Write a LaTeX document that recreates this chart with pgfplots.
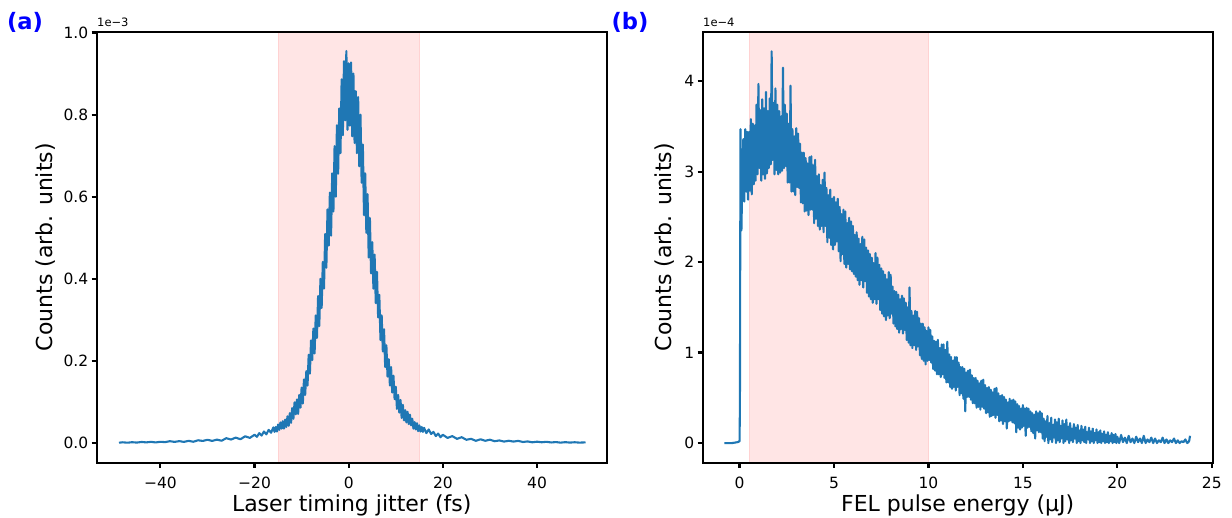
\documentclass[border=0pt]{standalone}
\usepackage{fontspec}
\setmainfont{DejaVu Sans}
\usepackage{pgfplots}
\pgfplotsset{compat=1.18}
\definecolor{mplblue}{HTML}{1F77B4}
\definecolor{bandpink}{RGB}{255,229,229}
\definecolor{bandedge}{RGB}{255,210,210}
\pgfplotsset{
 myaxis/.style={
  scale only axis, width=510pt, height=431pt, axis on top, clip=false,
  axis line style={line width=2.3pt, black},
  tick align=outside, xtick pos=bottom, ytick pos=left,
  major tick length=5pt, tick style={line width=2.2pt, black},
  tick label style={font=\fontsize{15.5}{18}\selectfont},
  xticklabel style={yshift=-6pt},
  every axis x label/.style={at={(axis description cs:0.5,-0.1137)}, anchor=base, font=\fontsize{22}{26}\selectfont},
 }
}
\begin{document}
\begin{tikzpicture}[x=1pt,y=1pt]
\useasboundingbox (0,0) rectangle (1232,518);
\begin{axis}[myaxis, at={(96.7pt,55.3pt)}, anchor=south west,
  every axis y label/.style={at={(axis description cs:-0.0857,0.5)}, rotate=90, anchor=base, font=\fontsize{22}{26}\selectfont},
  xmin=-53.53, xmax=54.8, ymin=-0.048, ymax=1.002,
  xtick={-40,-20,0,20,40}, xticklabels={−40,−20,0,20,40},
  ytick={0,0.2,0.4,0.6,0.8,1.0}, yticklabels={0.0,0.2,0.4,0.6,0.8,1.0},
  xlabel={Laser timing jitter (fs)}, ylabel={Counts (arb. units)}]
\fill[bandpink] (axis cs:-15,-0.048) rectangle (axis cs:15,1.002);
\draw[bandedge, line width=0.8pt] (axis cs:-15,-0.048) -- (axis cs:-15,1.002);
\draw[bandedge, line width=0.8pt] (axis cs:15,-0.048) -- (axis cs:15,1.002);
\addplot[mplblue, line width=2.1pt, line join=round, no marks] coordinates {
(-48.8,0.0007) (-48,0.0017) (-47,0.0007) (-46,0.0019) (-45,0.0010) (-44,0.0025) (-43,0.0015) (-42,0.0027) (-41,0.0014) (-40,0.0029) (-39,0.0021) (-38,0.0044) (-37,0.0027) (-36,0.0045) (-35,0.0027) (-34,0.0052) (-33,0.0030) (-32,0.0066) (-31,0.0050) (-30,0.0078) (-29,0.0051) (-28,0.0082) (-27,0.0055) (-26,0.0117) (-25,0.0084) (-24,0.0131) (-23,0.0091) (-22,0.0163) (-21,0.0124)
(-20,0.020) (-19.5,0.015) (-19,0.024) (-18.5,0.018) (-18,0.028) (-17.5,0.021) (-17,0.032) (-16.5,0.025) (-16,0.038) (-15.75,0.027) (-15.5,0.039) (-15.25,0.028) (-15,0.045) (-14.75,0.032) (-14.5,0.050) (-14.25,0.035) (-14,0.053) (-13.75,0.035) (-13.5,0.057) (-13.25,0.039) (-13,0.065) (-12.75,0.042) (-12.5,0.073) (-12.25,0.049)
(-12,0.085) (-11.75,0.059) (-11.5,0.099) (-11.25,0.070) (-11,0.106) (-10.75,0.071) (-10.5,0.117) (-10.25,0.086) (-10,0.135) (-9.75,0.096) (-9.5,0.155) (-9.25,0.117) (-9,0.175) (-8.75,0.140) (-8.5,0.215) (-8.25,0.169) (-8,0.250) (-7.75,0.202) (-7.5,0.279) (-7.25,0.218) (-7,0.311) (-6.75,0.256) (-6.5,0.358) (-6.25,0.285) (-6,0.400) (-5.75,0.329) (-5.5,0.441) (-5.25,0.376) (-5,0.509) (-4.75,0.427) (-4.5,0.569) (-4.25,0.481) (-4,0.610) (-3.75,0.505) (-3.5,0.657) (-3.25,0.564) (-3,0.723) (-2.75,0.600) (-2.5,0.774) (-2.25,0.656) (-2,0.815) (-1.75,0.706) (-1.5,0.886) (-1.25,0.750) (-1,0.930) (-0.75,0.786) (-0.5,0.955) (-0.25,0.763) (0,0.925) (0.25,0.773) (0.5,0.927) (0.75,0.747) (1,0.900) (1.25,0.731) (1.5,0.857) (1.75,0.706) (2,0.843) (2.25,0.674) (2.5,0.800) (2.75,0.634) (3,0.727) (3.25,0.555) (3.5,0.657) (3.75,0.512) (4,0.606) (4.25,0.452) (4.5,0.548) (4.75,0.413) (5,0.489) (5.25,0.376) (5.5,0.459) (5.75,0.341) (6,0.417) (6.25,0.306) (6.5,0.361) (6.75,0.251) (7,0.311) (7.25,0.223) (7.5,0.277) (7.75,0.185) (8,0.238) (8.25,0.162) (8.5,0.204) (8.75,0.140) (9,0.185) (9.25,0.123) (9.5,0.164) (9.75,0.107) (10,0.137) (10.25,0.083) (10.5,0.117) (10.75,0.074) (11,0.105) (11.25,0.061) (11.5,0.093) (11.75,0.055) (12,0.080)
(12.25,0.050) (12.5,0.076) (12.75,0.046) (13,0.069) (13.25,0.043) (13.5,0.059) (13.75,0.035) (14,0.051) (14.25,0.033) (14.5,0.048) (14.75,0.029) (15,0.043) (15.25,0.028) (15.5,0.039) (15.75,0.027) (16,0.037) (16.5,0.024) (17,0.033) (17.5,0.022) (18,0.027) (18.5,0.017) (19,0.023) (19.5,0.014) (20,0.020)
(21,0.0124) (22,0.0167) (23,0.0101) (24,0.0141) (25,0.0078) (26,0.0102) (27,0.0053) (28,0.0090) (29,0.0054) (30,0.0080) (31,0.0043) (32,0.0062) (33,0.0034) (34,0.0054) (35,0.0034) (36,0.0052) (37,0.0024) (38,0.0038) (39,0.0017) (40,0.0032) (41,0.0018) (42,0.0029) (43,0.0013) (44,0.0022) (45,0.0009) (46,0.0020) (47,0.0010) (48,0.0018) (49,0.0009) (50.3,0.0015)
};
\end{axis}
\begin{axis}[myaxis, at={(702.7pt,55.3pt)}, anchor=south west,
  every axis y label/.style={at={(axis description cs:-0.0603,0.5)}, rotate=90, anchor=base, font=\fontsize{22}{26}\selectfont},
  xmin=-1.95, xmax=25.05, ymin=-0.217, ymax=4.547,
  xtick={0,5,10,15,20,25}, xticklabels={0,5,10,15,20,25},
  ytick={0,1,2,3,4}, yticklabels={0,1,2,3,4},
  xlabel={FEL pulse energy (µJ)}, ylabel={Counts (arb. units)}]
\fill[bandpink] (axis cs:0.5,-0.217) rectangle (axis cs:10,4.547);
\draw[bandedge, line width=0.8pt] (axis cs:0.5,-0.217) -- (axis cs:0.5,4.547);
\draw[bandedge, line width=0.8pt] (axis cs:10,-0.217) -- (axis cs:10,4.547);
\addplot[mplblue, line width=2.1pt, line join=round, no marks] coordinates {
(-0.8,0.0) (-0.4,0.0) (-0.1,0.01) (0.0,0.02) (0.02,0.4) (0.03,1.4) (0.05,3.47) (0.1,2.35) (0.15,3.0)
(0.20,3.36) (0.25,2.67) (0.30,3.47) (0.35,2.78) (0.40,3.44) (0.45,2.69) (0.50,3.44) (0.55,2.79) (0.60,3.58) (0.65,2.75) (0.70,3.53) (0.75,2.86) (0.80,3.51) (0.85,2.90) (0.90,3.74) (0.95,2.97) (1.00,3.97) (1.05,3.04) (1.10,3.68) (1.15,2.90) (1.20,3.80) (1.25,2.97) (1.30,3.70) (1.35,2.92) (1.40,3.88) (1.45,2.98) (1.50,3.67) (1.55,3.04) (1.60,3.81) (1.65,3.08) (1.70,4.33) (1.75,3.13) (1.80,3.76) (1.85,2.97) (1.90,3.92) (1.95,3.02) (2.00,3.74)
(2.05,2.97) (2.10,3.67) (2.15,2.99) (2.20,3.61) (2.25,3.01) (2.30,4.15) (2.35,3.04) (2.40,3.74) (2.45,3.06) (2.50,3.64) (2.55,2.88) (2.60,3.53) (2.65,2.88) (2.70,3.95) (2.75,2.78) (2.80,3.47) (2.85,2.78) (2.90,3.39) (2.95,2.74) (3.00,3.48)
(3.05,2.83) (3.10,3.42) (3.15,2.82) (3.20,3.31) (3.25,2.66) (3.30,3.21) (3.35,2.65) (3.40,3.21) (3.45,2.56) (3.50,3.15) (3.55,2.57) (3.60,3.09) (3.65,2.52) (3.70,3.16) (3.75,2.58) (3.80,3.17) (3.85,2.58) (3.90,3.07) (3.95,2.43) (4.00,3.13)
(4.05,2.48) (4.10,2.95) (4.15,2.40) (4.20,2.97) (4.25,2.36) (4.30,2.85) (4.35,2.40) (4.40,2.91) (4.45,2.33) (4.50,2.99) (4.55,2.40) (4.60,2.82) (4.65,2.22) (4.70,2.74) (4.75,2.27) (4.80,2.80) (4.85,2.19) (4.90,2.70) (4.95,2.14) (5.00,2.72) (5.05,2.19) (5.10,2.66) (5.15,2.23) (5.20,2.70) (5.25,2.12) (5.30,2.61) (5.35,2.01) (5.40,2.53) (5.45,2.09) (5.50,2.58) (5.55,1.98) (5.60,2.56) (5.65,1.94) (5.70,2.43) (5.75,1.98) (5.80,2.49) (5.85,1.92) (5.90,2.45) (5.95,1.90) (6.00,2.40)
(6.05,1.87) (6.10,2.30) (6.15,1.84) (6.20,2.33) (6.25,1.80) (6.30,2.26) (6.35,1.75) (6.40,2.20) (6.45,1.80) (6.50,2.28) (6.55,1.72) (6.60,2.25) (6.65,1.79) (6.70,2.16) (6.75,1.66) (6.80,2.13) (6.85,1.62) (6.90,2.09) (6.95,1.59) (7.00,2.05) (7.05,1.55) (7.10,1.99) (7.15,1.59) (7.20,2.10) (7.25,1.54) (7.30,2.05) (7.35,1.59) (7.40,1.97) (7.45,1.47) (7.50,1.93) (7.55,1.43) (7.60,1.90) (7.65,1.40) (7.70,1.86) (7.75,1.36) (7.80,1.81) (7.85,1.41) (7.90,1.89) (7.95,1.38) (8.00,1.86)
(8.05,1.43) (8.10,1.73) (8.15,1.32) (8.20,1.68) (8.25,1.29) (8.30,1.67) (8.35,1.26) (8.40,1.64) (8.45,1.22) (8.50,1.59) (8.55,1.26) (8.60,1.63) (8.65,1.21) (8.70,1.60) (8.75,1.25) (8.80,1.55) (8.85,1.14) (8.90,1.50) (8.95,1.11) (9.00,1.72) (9.05,1.08) (9.10,1.46) (9.15,1.05) (9.20,1.41) (9.25,1.08) (9.30,1.46) (9.35,1.03) (9.40,1.45) (9.45,1.07) (9.50,1.38) (9.55,0.97) (9.60,1.32) (9.65,0.93) (9.70,1.32) (9.75,0.91) (9.80,1.28) (9.85,0.87) (9.90,1.24) (9.95,0.91) (10.00,1.28)
(10.05,0.92) (10.10,1.25) (10.15,0.89) (10.20,1.18) (10.25,0.82) (10.30,1.13) (10.35,0.80) (10.40,1.12) (10.45,0.76) (10.50,1.14) (10.55,0.76) (10.60,1.05) (10.65,0.73) (10.70,1.09) (10.75,0.76) (10.80,1.09) (10.85,0.72) (10.90,1.03) (10.95,0.67) (11.00,1.12) (11.05,0.67) (11.10,0.98) (11.15,0.62) (11.20,0.95) (11.25,0.60) (11.30,0.91) (11.35,0.62) (11.40,0.95) (11.45,0.58) (11.50,0.95) (11.55,0.62) (11.60,0.89) (11.65,0.53) (11.70,0.84) (11.75,0.55) (11.80,0.84) (11.85,0.49) (11.90,0.82) (11.95,0.35) (12.00,0.78)
(12.05,0.51) (12.10,0.80) (12.15,0.51) (12.20,0.81) (12.25,0.48) (12.30,0.75) (12.35,0.44) (12.40,0.72) (12.45,0.44) (12.50,0.72) (12.55,0.39) (12.60,0.69) (12.65,0.40) (12.70,0.66) (12.75,0.37) (12.80,0.69) (12.85,0.40) (12.90,0.70) (12.95,0.38) (13.00,0.64) (13.05,0.33) (13.10,0.61) (13.15,0.34) (13.20,0.62) (13.25,0.29) (13.30,0.59) (13.35,0.30) (13.40,0.56) (13.45,0.31) (13.50,0.60) (13.55,0.28) (13.60,0.61) (13.65,0.31) (13.70,0.55) (13.75,0.24) (13.80,0.52) (13.85,0.25) (13.90,0.53) (13.95,0.21) (14.00,0.51)
(14.05,0.24) (14.10,0.48) (14.15,0.16) (14.20,0.45) (14.25,0.24) (14.30,0.49) (14.35,0.25) (14.40,0.47) (14.45,0.23) (14.50,0.48) (14.55,0.22) (14.60,0.46) (14.65,0.12) (14.70,0.43) (14.75,0.17) (14.80,0.41) (14.85,0.15) (14.90,0.38) (14.95,0.17) (15.00,0.42) (15.05,0.19) (15.10,0.38) (15.15,0.08) (15.20,0.39) (15.25,0.17) (15.30,0.38) (15.35,0.18) (15.40,0.35) (15.45,0.13) (15.50,0.33) (15.55,0.11) (15.60,0.31) (15.65,0.05) (15.70,0.35) (15.75,0.14) (15.80,0.33) (15.85,0.12) (15.90,0.35) (15.95,0.12) (16.00,0.33)
(16.05,0.05) (16.10,0.27) (16.15,0.02) (16.20,0.24) (16.25,0.07) (16.30,0.30) (16.35,0.00) (16.40,0.22) (16.45,0.04) (16.50,0.28) (16.55,0.01) (16.60,0.20) (16.65,0.06) (16.70,0.26) (16.75,0.00) (16.80,0.23) (16.85,0.03) (16.90,0.27) (16.95,0.01) (17.00,0.19) (17.05,0.05) (17.10,0.25) (17.15,0.00) (17.20,0.21) (17.25,0.02) (17.30,0.26) (17.35,0.04) (17.40,0.18) (17.45,0.00) (17.50,0.22) (17.55,0.03) (17.60,0.16) (17.65,0.01) (17.70,0.21) (17.75,0.05) (17.80,0.17) (17.85,0.00) (17.90,0.20) (17.95,0.02) (18.00,0.14)
(18.05,0.00) (18.10,0.19) (18.15,0.03) (18.20,0.15) (18.25,0.01) (18.30,0.18) (18.35,0.00) (18.40,0.12) (18.45,0.04) (18.50,0.17) (18.55,0.00) (18.60,0.13) (18.65,0.02) (18.70,0.16) (18.75,0.00) (18.80,0.11) (18.85,0.03) (18.90,0.15) (18.95,0.00) (19.00,0.12) (19.05,0.01) (19.10,0.14) (19.15,0.00) (19.20,0.10) (19.25,0.02) (19.30,0.13) (19.35,0.00) (19.40,0.09) (19.45,0.01) (19.50,0.12) (19.55,0.00) (19.60,0.08) (19.65,0.02) (19.70,0.11) (19.75,0.00) (19.80,0.09) (19.85,0.01) (19.90,0.10) (19.95,0.00) (20.00,0.07)
(20.1,0.00) (20.2,0.09) (20.3,0.01) (20.4,0.06) (20.5,0.00) (20.6,0.08) (20.7,0.01) (20.8,0.05) (20.9,0.00) (21.0,0.07) (21.1,0.01) (21.2,0.05) (21.3,0.00) (21.4,0.08) (21.5,0.00) (21.6,0.04) (21.7,0.01) (21.8,0.06) (21.9,0.00) (22.0,0.05) (22.1,0.00) (22.2,0.03) (22.3,0.01) (22.4,0.06) (22.5,0.00) (22.6,0.04) (22.7,0.00) (22.8,0.03) (22.9,0.01) (23.0,0.05) (23.1,0.00) (23.2,0.03) (23.3,0.00) (23.4,0.02) (23.5,0.01) (23.6,0.04) (23.7,0.00) (23.8,0.02) (23.85,0.08)
};
\end{axis}
\node[anchor=base west, inner sep=0pt, font=\fontsize{11.5}{13}\selectfont] at (97,491) {1e−3};
\node[anchor=base west, inner sep=0pt, font=\fontsize{11.5}{13}\selectfont] at (703,491) {1e−4};
\node[anchor=center, inner sep=0pt, text=blue, font=\fontsize{22.6}{26}\bfseries\selectfont] at (25,496) {(a)};
\node[anchor=center, inner sep=0pt, text=blue, font=\fontsize{22.6}{26}\bfseries\selectfont] at (630,496) {(b)};
\end{tikzpicture}
\end{document}
